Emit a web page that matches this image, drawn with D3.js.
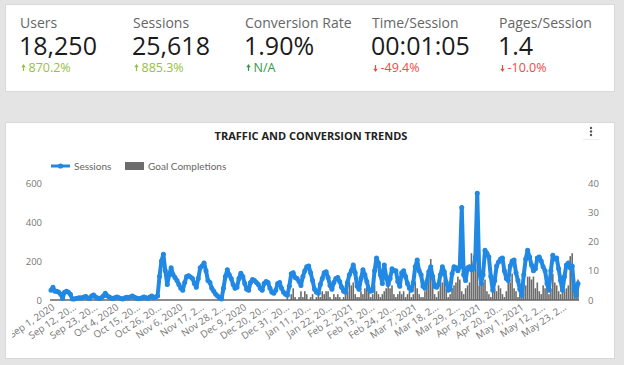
<!DOCTYPE html>
<html><head><meta charset="utf-8">
<script src="https://cdn.jsdelivr.net/npm/d3@7"></script>
<style>
html,body{margin:0;padding:0;background:#e4e4e4;}
svg{display:block;}
</style></head><body>
<svg id="c" width="624" height="365"></svg>
<script>
// ---- KPI data ----
const kpiLabels = ["Users", "Sessions", "Conversion Rate", "Time/Session", "Pages/Session"];
const kpiValues = ["18,250", "25,618", "1.90%", "00:01:05", "1.4"];
const kpiChanges = ["870.2%", "885.3%", "N/A", "-49.4%", "-10.0%"];
const kpiDirections = ["up", "up", "up", "down", "down"];
const kpiTones = ["pos", "pos", "na", "neg", "neg"];

// ---- chart data (daily, starting Sep 1, 2020) ----
const chartTitle = "TRAFFIC AND CONVERSION TRENDS";
const seriesNames = ["Sessions", "Goal Completions"];
const startDate = "2020-09-01";
const sessions = [
  50,65,45,45,40,30,8,40,45,40,30,5,
  5,8,10,12,10,15,18,
  10,8,20,26,15,10,8,
  12,20,34,22,15,10,8,
  12,15,12,8,5,10,14,
  12,15,20,14,10,6,8,
  12,16,12,8,15,20,12,15,
  20,120,200,235,150,80,130,
  165,130,115,100,80,60,50,
  90,120,125,118,110,85,65,
  110,165,175,190,150,100,90,
  60,45,30,20,10,5,60,
  120,155,130,110,80,60,65,
  110,137,120,85,55,50,90,
  105,100,90,80,60,50,85,
  95,90,60,40,35,50,85,
  90,60,40,30,25,70,135,
  140,115,110,95,75,120,150,
  170,175,140,100,55,40,35,
  80,110,140,145,115,75,55,
  90,110,115,95,65,45,40,
  90,130,150,180,140,70,55,
  110,155,130,95,55,45,50,
  150,215,190,130,85,180,120,
  80,110,160,150,150,95,70,
  140,150,120,85,60,50,90,
  170,205,150,130,70,60,95,
  145,170,120,70,65,80,130,
  170,145,90,50,55,135,170,
  165,150,170,475,130,100,165,
  170,155,160,220,548,150,85,
  130,255,240,220,120,50,100,
  175,195,210,215,150,110,100,
  175,200,205,140,100,55,25,
  130,210,255,220,180,150,160,
  215,220,200,170,150,85,50,
  150,230,210,215,160,100,50,
  120,180,190,165,175,60,25,
  85
];
const goalCompletions = [
  0,0,0,0,0,0,0,0,0,0,0,
  0,0,0,0,0,0,0,0,0,0,0,
  0,0,0,0,0,0,0,0,0,0,0,
  0,0,0,0,0,0,0,0,0,0,0,
  0,0,0,0,0,0,0,0,0,0,0,
  0,0,0,0,0,0,0,0,0,0,0,
  0,0,0,0,0,0,0,0,0,0,0,
  0,0,0,0,0,0,0,0,0,0,0,
  0,0,0,0,0,0,0,0,0,0,0,
  0,0,0,0,0,0,0,0,0,0,0,
  0,0,0,0,0,0,0,0,0,0,0,
  0,1,0,2,4,1,0,
  1,3,1,3,2,0,1,
  2,0,1,2,1,3,2,
  3,3,1,0,2,1,2,
  1,0,1,2,3,6,5,
  6,2,1,1,3,2,4,
  5,5,1,2,5,3,2,
  1,2,3,4,5,4,5,
  2,1,2,3,2,3,1,
  2,3,1,2,6,4,2,
  1,1,3,5,8,14,6,
  2,1,3,7,6,7,4,
  1,2,4,5,6,8,7,
  3,2,4,5,6,16,10,
  15,17,5,7,6,7,3,
  2,1,3,4,3,5,4,
  2,1,3,9,6,9,4,
  3,1,2,4,6,5,8,
  8,7,8,4,6,3,2,
  5,4,8,2,4,9,6,
  5,3,2,6,3,4,5,
  15,16,4,2,7
];
const leftTicks = [0, 200, 400, 600];
const rightTicks = [0, 10, 20, 30, 40];
const xTickLabels = [
  "Sep 1, 2020", "Sep 12, 20...", "Sep 23, 20...", "Oct 4, 2020", "Oct 15, 20...",
  "Oct 26, 20...", "Nov 6, 2020", "Nov 17, 2...", "Nov 28, 2...", "Dec 9, 2020",
  "Dec 20, 20...", "Dec 31, 20...", "Jan 11, 20...", "Jan 22, 20...", "Feb 2, 2021",
  "Feb 13, 20...", "Feb 24, 20...", "Mar 7, 2021", "Mar 18, 2...", "Mar 29, 2...",
  "Apr 9, 2021", "Apr 20, 20...", "May 1, 2021", "May 12, 2...", "May 23, 2..."
];
const xTickStepDays = 11;

// ---- drawing ----
const svg = d3.select("#c");
const FONT = "'Open Sans', sans-serif";

// cards
svg.append("rect").attr("x", 5.5).attr("y", 4.5).attr("width", 609).attr("height", 87)
  .attr("fill", "#fff").attr("stroke", "#d9d9d9");
svg.append("rect").attr("x", 5.5).attr("y", 122.5).attr("width", 609).attr("height", 236)
  .attr("fill", "#fff").attr("stroke", "#d9d9d9");

// KPIs
const kpiX = [20, 133, 245, 372, 499];
const toneColor = {pos: "#95c23d", na: "#2f9a46", neg: "#ee4b45"};
kpiLabels.forEach((lab, i) => {
  const g = svg.append("g").attr("transform", `translate(${kpiX[i]},0)`);
  g.append("text").attr("x", 0).attr("y", 28).attr("font-family", FONT).attr("font-size", 14)
    .attr("fill", "#666").text(lab);
  g.append("text").attr("x", -1).attr("y", 55).attr("font-family", FONT).attr("font-size", 25)
    .attr("fill", "#1b1b1b").text(kpiValues[i]);
  const col = toneColor[kpiTones[i]];
  const ax = 1.5;
  const arrow = kpiDirections[i] === "up"
    ? `M${ax+2},64 L${ax+4.2},67.2 L${ax+2.6},67.2 L${ax+2.6},71 L${ax+1.4},71 L${ax+1.4},67.2 L${ax-0.2},67.2 Z`
    : `M${ax+2},72 L${ax+4.2},68.8 L${ax+2.6},68.8 L${ax+2.6},65 L${ax+1.4},65 L${ax+1.4},68.8 L${ax-0.2},68.8 Z`;
  g.append("path").attr("d", arrow).attr("fill", col);
  g.append("text").attr("x", 8.5).attr("y", 71.5).attr("font-family", FONT).attr("font-size", 12.5)
    .attr("fill", col).text(kpiChanges[i]);
});

// title + menu
svg.append("text").attr("x", 311).attr("y", 140).attr("text-anchor", "middle")
  .attr("font-family", FONT).attr("font-weight", 700).attr("font-size", 11)
  .attr("fill", "#222").text(chartTitle);
[128, 131.5, 135].forEach(cy => svg.append("circle").attr("cx", 591).attr("cy", cy).attr("r", 1.2).attr("fill", "#555"));
svg.append("line").attr("x1", 583).attr("x2", 599).attr("y1", 139.5).attr("y2", 139.5).attr("stroke", "#ececec");

// scales
const t0 = d3.timeParse("%Y-%m-%d")(startDate);
const dates = sessions.map((_, i) => d3.timeDay.offset(t0, i));
const x = d3.scaleTime().domain([dates[0], dates[dates.length - 1]]).range([51, 578]);
const yL = d3.scaleLinear().domain([0, 600]).range([300, 183]);
const yR = d3.scaleLinear().domain([0, 40]).range([300, 183]);

const BLUE = "#2188e3";
const GREY = "#6c6c6c";

// legend
const lg = svg.append("g").attr("font-family", "Lato, sans-serif").attr("font-size", 10).attr("fill", "#666");
lg.append("line").attr("x1", 51).attr("x2", 70).attr("y1", 166).attr("y2", 166).attr("stroke", BLUE).attr("stroke-width", 3);
lg.append("circle").attr("cx", 60.5).attr("cy", 166).attr("r", 2.6).attr("fill", BLUE);
lg.append("text").attr("x", 74).attr("y", 169.5).text(seriesNames[0]);
lg.append("rect").attr("x", 125).attr("y", 162).attr("width", 19).attr("height", 8).attr("fill", GREY);
lg.append("text").attr("x", 148).attr("y", 169.5).text(seriesNames[1]);

// bars (goal completions)
svg.append("g").selectAll("rect").data(goalCompletions).join("rect")
  .attr("x", (d, i) => x(dates[i]) - 0.8)
  .attr("width", 1.6)
  .attr("y", d => yR(d))
  .attr("height", d => 300 - yR(d))
  .attr("fill", GREY);

// baseline
svg.append("line").attr("x1", 50).attr("x2", 579).attr("y1", 300).attr("y2", 300)
  .attr("stroke", "#666").attr("stroke-width", 1.5);

// sessions line
const line = d3.line().x((d, i) => x(dates[i])).y(d => yL(d));
svg.append("path").datum(sessions).attr("d", line).attr("fill", "none")
  .attr("stroke", BLUE).attr("stroke-width", 4).attr("stroke-linejoin", "round");
svg.append("g").selectAll("circle").data(sessions).join("circle")
  .attr("cx", (d, i) => x(dates[i])).attr("cy", d => yL(d)).attr("r", 2.5).attr("fill", BLUE);

// left axis
const axL = svg.append("g").attr("transform", "translate(44,0)")
  .call(d3.axisLeft(yL).tickValues(leftTicks).tickSize(0).tickPadding(2));
axL.select(".domain").remove();
axL.selectAll("text").attr("font-family", FONT).attr("font-size", 9.5).attr("fill", "#777");

// right axis
const axR = svg.append("g").attr("transform", "translate(586,0)")
  .call(d3.axisRight(yR).tickValues(rightTicks).tickSize(0).tickPadding(2));
axR.select(".domain").remove();
axR.selectAll("text").attr("font-family", FONT).attr("font-size", 9.5).attr("fill", "#777");

// x axis
svg.append("clipPath").attr("id", "xclip").append("rect").attr("x", 12).attr("y", 290).attr("width", 600).attr("height", 70);
const tickDates = xTickLabels.map((_, i) => d3.timeDay.offset(t0, i * xTickStepDays));
const axX = svg.append("g").attr("clip-path", "url(#xclip)").append("g").attr("transform", "translate(0,300)")
  .call(d3.axisBottom(x).tickValues(tickDates).tickSize(0).tickFormat((d, i) => xTickLabels[i]));
axX.select(".domain").remove();
axX.selectAll("text")
  .attr("font-family", FONT).attr("font-size", 9.8).attr("fill", "#777")
  .attr("text-anchor", "end").attr("x", 0).attr("y", 0).attr("dy", "0.35em")
  .attr("transform", "translate(2,6) rotate(-34)");
</script>
</body></html>
